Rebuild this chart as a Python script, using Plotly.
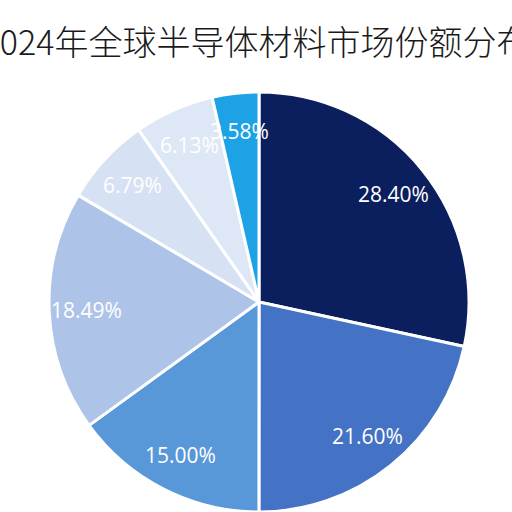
import math
import plotly.graph_objects as go

categories = ["类别A", "类别B", "类别C", "类别D", "类别E", "类别F", "类别G"]
shares = [28.40, 21.60, 15.00, 18.49, 6.79, 6.13, 3.58]
colors = ["#0b1f5e", "#4472c4", "#5898d8", "#aec3e8", "#d6e1f3", "#dde7f6", "#1ea2e6"]

W, H = 512, 512
cx, cy, R = 259, 302, 210
label_r = 0.82

fig = go.Figure(go.Pie(
    labels=categories,
    values=shares,
    sort=False,
    direction="clockwise",
    rotation=0,
    marker=dict(colors=colors, line=dict(color="white", width=3)),
    textinfo="none",
    hoverinfo="label+value",
    showlegend=False,
    domain=dict(x=[(cx - R) / W, (cx + R) / W], y=[max(0, (H - cy - R) / H), (H - cy + R) / H]),
))

# data labels placed along each slice's mid-angle
total = sum(shares)
cum = 0.0
for v in shares:
    mid = (cum + v / 2) / total * 2 * math.pi
    cum += v
    px = cx + label_r * R * math.sin(mid)
    py = cy - label_r * R * math.cos(mid)
    fig.add_annotation(
        x=px / W, y=1 - py / H, xref="paper", yref="paper",
        text=f"{v:.2f}%", showarrow=False,
        font=dict(family="Open Sans", size=21, color="white"),
        xanchor="center", yanchor="middle",
    )

fig.update_layout(
    width=W, height=H,
    margin=dict(l=0, r=0, t=0, b=0),
    paper_bgcolor="white",
    plot_bgcolor="white",
    title=dict(
        text="2024年全球半导体材料市场份额分布",
        x=0.5, xanchor="center",
        y=1 - 43 / H, yanchor="middle",
        font=dict(family="Noto Sans CJK SC", size=34, color="#1a1a1a", weight=300),
    ),
)

fig.write_html("out.html")
